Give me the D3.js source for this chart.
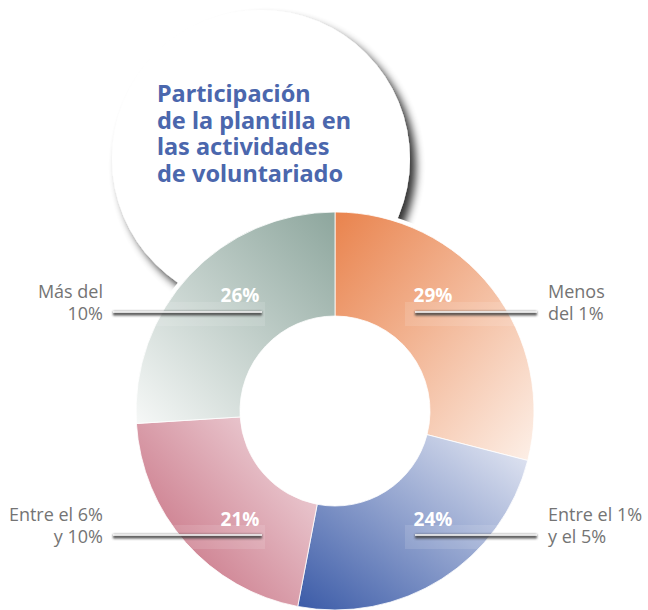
<!DOCTYPE html>
<html>
<head>
<meta charset="utf-8">
<script src="https://cdn.jsdelivr.net/npm/d3@7"></script>
<style>
  body { margin: 0; background: #fff; }
  svg { display: block; }
  .title { font-family: "Noto Sans", "Open Sans", sans-serif; font-weight: 700; fill: #4b67ad; }
  .cat-label { font-family: "Open Sans", "Noto Sans", sans-serif; font-weight: 400; fill: #747474; }
  .pct-label { font-family: "Open Sans", "Noto Sans", sans-serif; font-weight: 700; fill: #fff; }
</style>
</head>
<body>
<div id="chart"></div>
<script>
// data
var categories = ["Menos del 1%", "Entre el 1% y el 5%", "Entre el 6% y 10%", "Más del 10%"];
var labelLines = [["Menos", "del 1%"], ["Entre el 1%", "y el 5%"], ["Entre el 6%", "y 10%"], ["Más del", "10%"]];
var values = [29, 24, 21, 26];
var titleLines = ["Participación", "de la plantilla en", "las actividades", "de voluntariado"];

// gradient stops per slice: [dark, light] and direction
var sliceColors = [
    { dark: "#e9834d", light: "#fdf0e8", x1: 0, y1: 0, x2: 1, y2: 1 },
    { dark: "#3a5aa7", light: "#e8ebf5", x1: 0, y1: 1, x2: 1, y2: 0 },
    { dark: "#c4677a", light: "#eed3d9", x1: 0, y1: 0.9, x2: 0.9, y2: 0.1 },
    { dark: "#8da69d", light: "#f6f8f7", x1: 1, y1: 0, x2: 0, y2: 1 }
];

var width = 648, height = 610;
var cx = 335, cy = 411;
var outerR = 199, innerR = 95;

var svg = d3.select("#chart").append("svg")
    .attr("width", width)
    .attr("height", height);

var defs = svg.append("defs");

// shadow of the title bubble
var shadow = defs.append("filter").attr("id", "bubbleShadow")
    .attr("x", "-20%").attr("y", "-20%").attr("width", "140%").attr("height", "140%");
shadow.append("feGaussianBlur").attr("in", "SourceAlpha").attr("stdDeviation", 4).attr("result", "blur");
shadow.append("feOffset").attr("in", "blur").attr("dx", 6).attr("dy", 7).attr("result", "off");
shadow.append("feComponentTransfer").attr("in", "off").attr("result", "sh")
    .append("feFuncA").attr("type", "linear").attr("slope", 0.8);
var merge = shadow.append("feMerge");
merge.append("feMergeNode").attr("in", "sh");
merge.append("feMergeNode").attr("in", "SourceGraphic");

// blur for the leader line shadows
defs.append("filter").attr("id", "lineBlur")
    .attr("filterUnits", "userSpaceOnUse")
    .attr("x", -400).attr("y", -300).attr("width", 800).attr("height", 600)
    .append("feGaussianBlur").attr("stdDeviation", 1.3);

sliceColors.forEach(function(c, i) {
    var g = defs.append("linearGradient").attr("id", "grad" + i)
        .attr("x1", c.x1).attr("y1", c.y1).attr("x2", c.x2).attr("y2", c.y2);
    g.append("stop").attr("offset", "0%").attr("stop-color", c.dark);
    g.append("stop").attr("offset", "100%").attr("stop-color", c.light);
});

// title bubble
svg.append("circle")
    .attr("cx", 261).attr("cy", 159).attr("r", 149)
    .attr("fill", "#fff")
    .attr("filter", "url(#bubbleShadow)");

var title = svg.append("text").attr("class", "title")
    .attr("x", 157).attr("y", 102)
    .style("font-size", "23.5px");
title.selectAll("tspan")
    .data(titleLines)
    .enter().append("tspan")
    .attr("x", 157)
    .attr("dy", function(d, i) { return i === 0 ? 0 : 26.7; })
    .text(function(d) { return d; });

// donut
var pie = d3.pie().sort(null).value(function(d) { return d; });
var arc = d3.arc().innerRadius(innerR).outerRadius(outerR);
var arcs = pie(values);

var donut = svg.append("g").attr("transform", "translate(" + cx + "," + cy + ")");

// white rim hiding the bubble shadow
donut.append("circle").attr("r", outerR + 4).attr("fill", "#fff");

donut.selectAll("path.slice")
    .data(arcs)
    .enter().append("path")
    .attr("class", "slice")
    .attr("d", arc)
    .attr("fill", function(d, i) { return "url(#grad" + i + ")"; })
    .attr("stroke", "#fff")
    .attr("stroke-width", 0.8);

// labels
var labels = donut.selectAll("g.label")
    .data(arcs)
    .enter().append("g")
    .attr("class", "label");

labels.each(function(d, i) {
    var g = d3.select(this);
    var c = arc.centroid(d);
    var right = c[0] > 0;
    var top = c[1] < 0;
    var lineY = top ? -99 : 124;
    var pctY = top ? -109 : 115;
    var x0 = right ? 80 : -222;
    var x1 = right ? 202 : -73;

    // faint box around the line
    g.append("rect")
        .attr("x", right ? 70 : -195).attr("y", lineY - 10)
        .attr("width", 125).attr("height", 24)
        .attr("fill", "#fff").attr("opacity", 0.12);

    // leader line shadow + line
    g.append("rect")
        .attr("x", x0).attr("width", x1 - x0)
        .attr("y", lineY - 0.5).attr("height", 4)
        .attr("fill", "#3c3c3c")
        .attr("opacity", 0.85)
        .attr("filter", "url(#lineBlur)");
    g.append("line")
        .attr("x1", x0).attr("x2", x1)
        .attr("y1", lineY).attr("y2", lineY)
        .attr("stroke", "#fff").attr("stroke-width", 1.6);

    g.append("text").attr("class", "pct-label")
        .attr("x", right ? 98 : -95).attr("y", pctY)
        .attr("text-anchor", "middle")
        .style("font-size", "19px")
        .text(values[i] + "%");

    var t = g.append("text").attr("class", "cat-label")
        .attr("text-anchor", right ? "start" : "end")
        .attr("y", lineY - 14)
        .style("font-size", "18px");
    t.selectAll("tspan")
        .data(labelLines[i])
        .enter().append("tspan")
        .attr("x", right ? 213 : -232)
        .attr("dy", function(d, j) { return j === 0 ? 0 : 22; })
        .text(function(d) { return d; });
});
</script>
</body>
</html>
